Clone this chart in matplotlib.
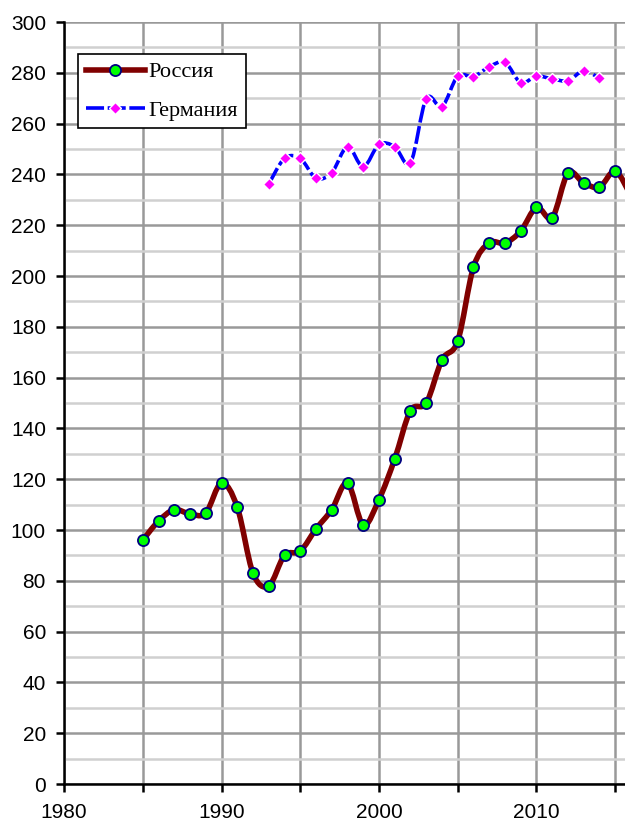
import numpy as np
import matplotlib.pyplot as plt
from matplotlib.path import Path
from matplotlib.patches import PathPatch
from matplotlib.lines import Line2D
from matplotlib.ticker import MultipleLocator

years_ru = list(range(1985, 2017))
russia = [96, 103.5, 108, 106.3, 106.7, 118.5, 109, 83, 78, 90, 91.7, 100.4,
          108, 118.5, 102, 112, 128, 147, 150, 167, 174.4, 203.5, 213, 213,
          217.7, 227, 223, 240.5, 236.6, 235, 241.3, 231.5]

years_de = list(range(1993, 2015))
germany = [236.2, 246.3, 246.3, 238.5, 240.7, 250.9, 243, 251.8, 250.9, 244.6,
           269.8, 266.7, 278.7, 278.5, 282.4, 284.1, 276.1, 278.7, 277.6, 276.9,
           280.8, 277.8]


def smooth_path(x, y):
    # excel-style smoothed line as cubic bezier segments
    p = np.column_stack([x, y]).astype(float)
    ext = np.vstack([p[0], p, p[-1]])
    verts = [p[0]]
    codes = [Path.MOVETO]
    for i in range(len(p) - 1):
        c1 = p[i] + (ext[i + 2] - ext[i]) / 6.0
        c2 = p[i + 1] - (ext[i + 3] - ext[i + 1]) / 6.0
        verts += [c1, c2, p[i + 1]]
        codes += [Path.CURVE4] * 3
    return Path(verts, codes)


plt.rcParams['font.family'] = 'Liberation Sans'

fig = plt.figure(figsize=(6.25, 8.26), dpi=100)
ax = fig.add_axes([64 / 625, 42 / 826, 561 / 625, 762 / 826])

ax.set_xlim(1980, 1980 + 561 / 15.75)
ax.set_ylim(0, 300)

ax.xaxis.set_major_locator(MultipleLocator(10))
ax.xaxis.set_minor_locator(MultipleLocator(5))
ax.yaxis.set_major_locator(MultipleLocator(20))
ax.yaxis.set_minor_locator(MultipleLocator(10))

ax.grid(True, which='major', axis='y', color='#999999', lw=1.8)
ax.grid(True, which='minor', axis='y', color='#d0d0d0', lw=1.8)
ax.grid(True, which='both', axis='x', color='#999999', lw=1.8)
ax.set_axisbelow(True)

for s in ['top', 'right']:
    ax.spines[s].set_visible(False)
for s in ['left', 'bottom']:
    ax.spines[s].set_linewidth(1.8)

ax.tick_params(axis='both', which='both', direction='out', length=6, width=1.8,
               labelsize=15)
ax.tick_params(axis='x', which='minor', labelbottom=False)
ax.tick_params(axis='y', which='minor', length=0)
ax.tick_params(axis='x', pad=8)
ax.tick_params(axis='y', pad=7)

ax.add_patch(PathPatch(smooth_path(years_de, germany), fill=False, edgecolor='#0000ff',
                       lw=2.6, linestyle=(0, (5, 1)), capstyle='butt', zorder=3))
ax.plot(years_de, germany, ls='none', marker='D', ms=6.5, mfc='#ff00ff', mec='white',
        mew=1, zorder=4)

ax.add_patch(PathPatch(smooth_path(years_ru, russia), fill=False, edgecolor='#800000',
                       lw=4, capstyle='round', joinstyle='round', zorder=5))
ax.plot(years_ru, russia, ls='none', marker='o', ms=8, mfc='#00ff00', mec='#000080',
        mew=1.3, zorder=6)

handles = [
    Line2D([], [], color='#800000', lw=4, marker='o', ms=8, mfc='#00ff00',
           mec='#000080', mew=1.3),
    Line2D([], [], color='#0000ff', lw=2.6, ls=(0, (5, 1)), marker='D', ms=6.5,
           mfc='#ff00ff', mec='white', mew=1),
]
leg = ax.legend(handles, ['Россия', 'Германия'], loc='upper left',
                bbox_to_anchor=(0.025, 0.958), fancybox=False, framealpha=1,
                edgecolor='black', handlelength=2.65, handletextpad=0.18,
                labelspacing=0.8, borderpad=0.35, borderaxespad=0,
                prop={'family': 'Liberation Serif', 'size': 16})
leg.get_frame().set_linewidth(1.2)

plt.savefig('out.png', dpi=100)
